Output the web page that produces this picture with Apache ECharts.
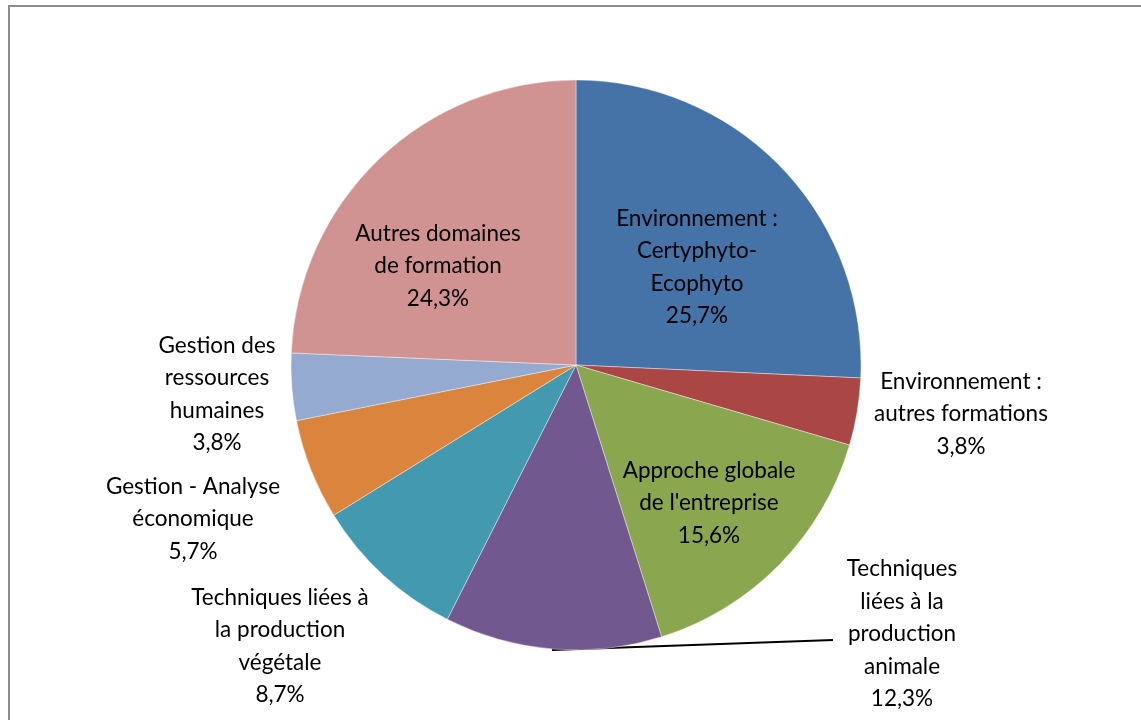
<!DOCTYPE html>
<html>
<head>
<meta charset="utf-8">
<script src="https://cdn.jsdelivr.net/npm/echarts@6/dist/echarts.min.js"></script>
<style>
  html, body { margin: 0; padding: 0; background: #fff; }
  #chart { width: 1141px; height: 720px; }
</style>
</head>
<body>
<div id="chart"></div>
<script>
// parts of the pie, clockwise from 12 o'clock
var categories = [
    'Environnement : Certyphyto-Ecophyto',
    'Environnement : autres formations',
    "Approche globale de l'entreprise",
    'Techniques liées à la production animale',
    'Techniques liées à la production végétale',
    'Gestion - Analyse économique',
    'Gestion des ressources humaines',
    'Autres domaines de formation'
];
var shares = [25.7, 3.8, 15.6, 12.3, 8.7, 5.7, 3.8, 24.3];

// how each label is broken into lines (like Excel did)
var wrapped = [
    'Environnement :\nCertyphyto-\nEcophyto',
    'Environnement :\nautres formations',
    "Approche globale\nde l'entreprise",
    'Techniques\nliées à la\nproduction\nanimale',
    'Techniques liées à\nla production\nvégétale',
    'Gestion - Analyse\néconomique',
    'Gestion des\nressources\nhumaines',
    'Autres domaines\nde formation'
];

var colors = ['#4673A7', '#AA4644', '#8AA64F', '#71588F', '#4299B0', '#DB843D', '#94AAD0', '#D19392'];

// where the label blocks sit (centre of each text block)
var labelSpots = [
    [697, 267], [961, 414], [709, 503], [902, 634],
    [280, 646], [193, 519], [217, 394], [438, 266]
];

var myChart = echarts.init(document.getElementById('chart'));

var pieData = categories.map(function (c, i) {
    return {name: c, value: shares[i], itemStyle: {color: colors[i]}};
});

var option = {
    animation: false,
    graphic: [{
        type: 'polyline',
        shape: {points: [[9, 720], [9, 6], [1141, 6]]},
        style: {stroke: '#8c8c8c', lineWidth: 2, fill: null}
    }],
    series: [{
        type: 'pie',
        center: [576, 365],
        radius: [0, 285],
        startAngle: 90,
        clockwise: true,
        avoidLabelOverlap: false,
        itemStyle: {borderColor: '#ffffff', borderWidth: 0.4},
        label: {
            show: true,
            position: 'outside',
            fontFamily: 'Lato, "Open Sans", sans-serif',
            fontSize: 22.5,
            lineHeight: 32.5,
            color: '#000',
            align: 'center',
            formatter: function (p) {
                return wrapped[p.dataIndex] + '\n' + p.value.toFixed(1).replace('.', ',') + '%';
            }
        },
        labelLine: {show: false},
        labelLayout: function (p) {
            var s = labelSpots[p.dataIndex];
            var out = {
                x: s[0],
                y: s[1],
                align: 'center',
                verticalAlign: 'middle'
            };
            if (p.dataIndex === 3) {
                out.labelLinePoints = [[552, 650], [833, 640], [833, 640]];
            }
            return out;
        },
        data: pieData.map(function (d, i) {
            if (i === 3) {
                d.labelLine = {show: true, lineStyle: {color: '#000', width: 2}};
            }
            return d;
        })
    }]
};
myChart.setOption(option);
</script>
</body>
</html>
